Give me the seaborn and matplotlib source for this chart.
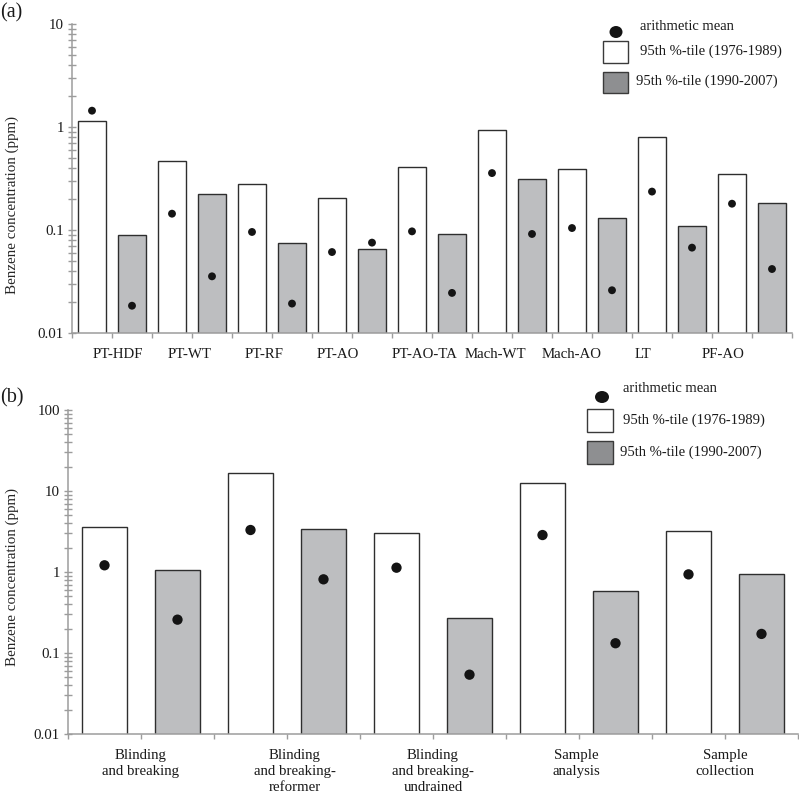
import numpy as np
import pandas as pd
import matplotlib
matplotlib.use("Agg")
import matplotlib.pyplot as plt
from matplotlib.patches import Rectangle, Ellipse
from matplotlib.ticker import FixedLocator, NullFormatter, FuncFormatter, FixedFormatter, LogLocator
import seaborn as sns

# ---------------- data ----------------
cats_a = ["PT-HDF", "PT-WT", "PT-RF", "PT-AO", "PT-AO-TA", "Mach-WT", "Mach-AO", "LT", "PF-AO"]
p95_early_a = [1.15, 0.465, 0.282, 0.205, 0.406, 0.942, 0.388, 0.806, 0.352]
p95_late_a = [0.089, 0.224, 0.0754, 0.0649, 0.092, 0.315, 0.130, 0.1086, 0.183]
mean_early_a = [1.44, 0.144, 0.0957, 0.0611, 0.097, 0.357, 0.1045, 0.236, 0.180]
mean_late_a = [0.0184, 0.0355, 0.0193, 0.0754, 0.0245, 0.0915, 0.026, 0.0674, 0.0418]

cats_b = ["Blinding\nand breaking", "Blinding\nand breaking-\nreformer",
          "Blinding\nand breaking-\nundrained", "Sample\nanalysis", "Sample\ncollection"]
p95_early_b = [3.63, 16.8, 3.03, 12.7, 3.18]
p95_late_b = [1.06, 3.40, 0.268, 0.577, 0.944]
mean_early_b = [1.21, 3.30, 1.13, 2.86, 0.935]
mean_late_b = [0.258, 0.812, 0.054, 0.132, 0.172]

periods = ["1976-1989", "1990-2007"]
legend_labels = ["arithmetic mean", "95th %-tile (1976-1989)", "95th %-tile (1990-2007)"]
ylabel = "Benzene concentration (ppm)"

# ---------------- style ----------------
sns.set_style("white")
plt.rcParams["font.family"] = ["Liberation Serif", "DejaVu Serif"]
plt.rcParams["text.color"] = "#1a1a1a"

W, H = 799, 795
fig = plt.figure(figsize=(W / 100, H / 100), dpi=100)

AX_GRAY = "#9c9c9c"
BAR_GRAY = "#bdbec0"
LEG_GRAY = "#8e8f91"
EDGE = "#2e2e2e"


def fig_ax(l, t, r, b):
    return fig.add_axes([l / W, 1 - b / H, (r - l) / W, (b - t) / H])


def make_panel(ax, cats, early, late, m_early, m_late, ylim, width, gap, dot_s,
               label_offsets, label_pad, label_coords):
    df = pd.DataFrame({
        "cat": cats * 2,
        "val": list(early) + list(late),
        "period": [periods[0]] * len(cats) + [periods[1]] * len(cats),
    })
    ax.set_yscale("log")
    sns.barplot(data=df, x="cat", y="val", hue="period", order=cats, hue_order=periods,
                palette={periods[0]: "white", periods[1]: BAR_GRAY}, saturation=1,
                width=width, gap=gap, dodge=True, edgecolor=EDGE, linewidth=1.0,
                legend=False, ax=ax, errorbar=None)
    n = len(cats)
    idx = np.arange(n)
    off = width / 4
    xs = np.concatenate([idx - off, idx + off])
    ms = np.array(list(m_early) + list(m_late))
    sns.scatterplot(x=xs, y=ms, color="#141414", s=dot_s, edgecolor="none",
                    legend=False, ax=ax, zorder=5)
    ax.set_xlim(-0.5, n - 0.5)
    ax.set_ylim(*ylim)
    for s in ["top", "right"]:
        ax.spines[s].set_visible(False)
    for s in ["left", "bottom"]:
        ax.spines[s].set_color(AX_GRAY)
        ax.spines[s].set_linewidth(1.1)
    # x ticks: marks at slot boundaries, category names as zero-length minor ticks
    ax.xaxis.remove_overlapping_locs = False
    ax.xaxis.set_major_locator(FixedLocator(np.arange(-0.5, n, 0.5)))
    ax.xaxis.set_major_formatter(NullFormatter())
    ax.xaxis.set_minor_locator(FixedLocator(idx + np.array(label_offsets)))
    ax.xaxis.set_minor_formatter(FixedFormatter(cats))
    ax.tick_params(axis="x", which="major", direction="out", length=3.5, width=1.0,
                   color=AX_GRAY, bottom=True)
    ax.tick_params(axis="x", which="minor", length=0, pad=label_pad, labelsize=10.7,
                   labelcolor="#1a1a1a", bottom=True)
    for t in ax.xaxis.get_minorticklabels():
        t.set_linespacing(1.3)
    ax.set_xlabel("")
    # y ticks
    ax.yaxis.set_major_locator(LogLocator(base=10, numticks=20))
    ax.yaxis.set_minor_locator(LogLocator(base=10, subs=np.arange(2, 10), numticks=20))
    ax.yaxis.set_major_formatter(FuncFormatter(lambda v, p: "%g" % v))
    ax.yaxis.set_minor_formatter(NullFormatter())
    ax.tick_params(axis="y", which="both", direction="inout", length=5.5, width=1.0,
                   color=AX_GRAY, left=True, labelsize=10.7, labelcolor="#1a1a1a", pad=3)
    ax.set_ylabel(ylabel, fontsize=10.8)
    ax.yaxis.set_label_coords(*label_coords)


# ---- panel (a)
ax1 = fig_ax(72, 24, 792, 333)
make_panel(ax1, cats_a, p95_early_a, p95_late_a, mean_early_a, mean_late_a,
           (0.01, 10), 1.0, 0.3, 32,
           [0.075, -0.025, -0.1, -0.175, -0.09, -0.21, -0.25, -0.36, -0.36],
           11, (-0.0736, 0.414))

# ---- panel (b)
ax2 = fig_ax(68, 410, 798, 734)
make_panel(ax2, cats_b, p95_early_b, p95_late_b, mean_early_b, mean_late_b,
           (0.01, 100), 1.0, 0.384, 55,
           [0.0, 0.055, 0.0, -0.02, 0.0],
           11, (-0.067, 0.485))


# ---------------- legends (figure pixel coords) ----------------
def legend(dot, dot_wh, txt_pos, box1, box2):
    fig.add_artist(Ellipse((dot[0] / W, 1 - dot[1] / H), dot_wh[0] / W, dot_wh[1] / H,
                           transform=fig.transFigure, facecolor="#141414", edgecolor="none"))
    for (l, t, r, b), fc in [(box1, "white"), (box2, LEG_GRAY)]:
        fig.add_artist(Rectangle((l / W, 1 - b / H), (r - l) / W, (b - t) / H,
                                 transform=fig.transFigure, facecolor=fc,
                                 edgecolor="#3a3a3a", linewidth=1.0))
    for (x, y), s in zip(txt_pos, legend_labels):
        fig.text(x / W, 1 - y / H, s, ha="left", va="center", fontsize=10.5)


legend((616, 32), (13, 12), [(640, 27), (640, 51), (636, 81)],
       (603, 41, 628, 63), (603, 72, 628, 93))
legend((602, 397), (14, 12), [(623, 389), (623, 420), (620, 452)],
       (587, 409, 613, 432), (587, 441, 613, 464))

fig.text(0 / W, 1 - 13 / H, "(a)", ha="left", va="center", fontsize=14.5)
fig.text(0 / W, 1 - 398 / H, "(b)", ha="left", va="center", fontsize=14.5)

fig.savefig("out.png", dpi=100)
